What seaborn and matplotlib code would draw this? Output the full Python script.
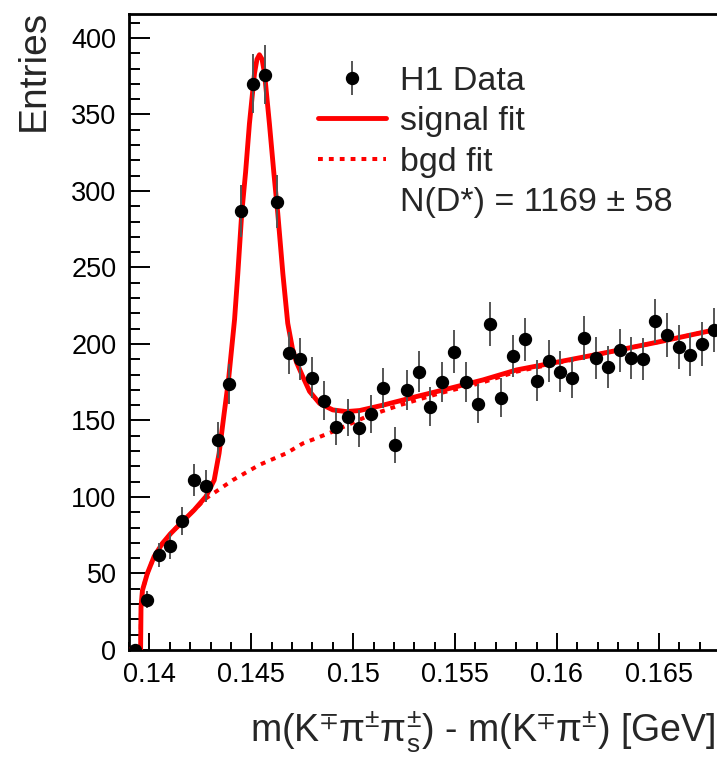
import numpy as np
import pandas as pd
import matplotlib
matplotlib.use('Agg')
import matplotlib.pyplot as plt
import seaborn as sns
from matplotlib.lines import Line2D
from matplotlib.ticker import MultipleLocator, FuncFormatter

# histogram of m(K pi pi_s) - m(K pi), 50 bins
bin_lo, bin_hi, n_bins = 0.139, 0.168, 50
counts = [0, 33, 62, 68, 84, 111, 107, 137, 174, 287,
          370, 376, 293, 194, 190, 178, 163, 146, 152, 145,
          154, 171, 134, 170, 182, 159, 175, 195, 175, 161,
          213, 165, 192, 203, 176, 189, 182, 178, 204, 191,
          185, 196, 191, 190, 215, 206, 198, 193, 200, 209]

# signal + background fit
sig_x = [0.1390, 0.13957, 0.13959, 0.13966, 0.13990, 0.14023, 0.14064, 0.14105,
         0.14154, 0.14220, 0.14277, 0.14318, 0.14342, 0.14367, 0.14388, 0.14418,
         0.14434, 0.14453, 0.14472, 0.14491, 0.14516, 0.14528, 0.14540, 0.14553,
         0.14565, 0.14589, 0.14611, 0.14630, 0.14655, 0.14679, 0.14702, 0.14722,
         0.14753, 0.14786, 0.14835, 0.14900, 0.14966, 0.15032, 0.15146, 0.15310,
         0.15474, 0.15637, 0.15801, 0.16210, 0.16505, 0.16800]
sig_y = [0, 0, 28, 39, 50, 61, 69.7, 76.2,
         82.8, 91.5, 100.2, 111, 128.5, 154.7, 176, 216,
         246, 285, 312, 344, 377, 386, 389, 386,
         377, 344, 311.5, 285.4, 246, 213.5, 197, 188,
         178.6, 169, 161.2, 156.9, 155.8, 156.5, 160, 165.6,
         171, 176.5, 183, 193.5, 201.5, 210]

# background only fit
bgd_x = [0.1390, 0.13957, 0.13959, 0.13966, 0.13990, 0.14023, 0.14064, 0.14105,
         0.14154, 0.14220, 0.14277, 0.14409, 0.14540, 0.14671, 0.14753, 0.14819,
         0.14900, 0.15065, 0.15228, 0.15425, 0.15621, 0.15801, 0.16210, 0.16505,
         0.16800]
bgd_y = [0, 0, 28, 39, 50, 61, 69.7, 76.2,
         82.8, 91.5, 99, 111, 121, 128.5, 135, 138.4,
         142.7, 152.5, 160, 167.8, 174.3, 181.9, 193.5, 201.5,
         210]

sns.set_style('ticks')
plt.rcParams['font.family'] = ['Liberation Sans', 'DejaVu Sans']
plt.rcParams['mathtext.fontset'] = 'custom'
plt.rcParams['mathtext.rm'] = 'Liberation Sans'
plt.rcParams['mathtext.it'] = 'Liberation Sans:italic'
plt.rcParams['mathtext.fallback'] = 'stixsans'
plt.rcParams['axes.edgecolor'] = 'black'
plt.rcParams['xtick.color'] = 'black'
plt.rcParams['ytick.color'] = 'black'

fig = plt.figure(figsize=(7.17, 7.59), dpi=100)
ax = fig.add_axes([0.1799, 0.1436, 0.8243, 0.8379])

centers = bin_lo + (np.arange(n_bins) + 0.5) * (bin_hi - bin_lo) / n_bins
df = pd.DataFrame({'dm': centers, 'entries': counts})
df['err'] = np.sqrt(df['entries'])
sig = pd.DataFrame({'dm': sig_x, 'entries': sig_y})
bgd = pd.DataFrame({'dm': bgd_x, 'entries': bgd_y})

dotted = (0, (1.2, 1.5))
sns.lineplot(data=bgd, x='dm', y='entries', ax=ax, color='red', lw=2.9,
             linestyle=dotted, zorder=2)
sns.lineplot(data=sig, x='dm', y='entries', ax=ax, color='red', lw=3.5, zorder=3)
data_h = ax.errorbar(df['dm'], df['entries'], yerr=df['err'], fmt='o', color='black',
                     ms=8.6, ecolor='#555555', elinewidth=1.4, capsize=0, zorder=4)

ax.set_xlim(bin_lo, bin_hi)
ax.set_ylim(0, 415.6)

ax.xaxis.set_major_locator(MultipleLocator(0.005))
ax.xaxis.set_minor_locator(MultipleLocator(0.001))
ax.yaxis.set_major_locator(MultipleLocator(50))
ax.yaxis.set_minor_locator(MultipleLocator(10))
ax.xaxis.set_major_formatter(FuncFormatter(lambda v, p: f'{v:g}'))
ax.tick_params(which='both', direction='in', top=False, right=False, width=1.4)
ax.tick_params(axis='x', which='major', length=12, labelsize=19.5, pad=8.5)
ax.tick_params(axis='x', which='minor', length=5.8)
ax.tick_params(axis='y', which='major', length=14.9, labelsize=19.5, pad=9)
ax.tick_params(axis='y', which='minor', length=7.7)
for s in ax.spines.values():
    s.set_linewidth(2)

ax.set_ylabel('Entries', fontsize=28, loc='top')
ax.yaxis.set_label_coords(-0.13, 1.006)
ax.set_xlabel('m(K$^{\\mp}$π$^{\\pm}$π$^{\\pm}_{\\mathrm{s}}$) - m(K$^{\\mp}$π$^{\\pm}$) [GeV]',
              fontsize=27, loc='right')
ax.xaxis.label.set_va('baseline')
ax.xaxis.set_label_coords(0.992, -0.145)

sig_h = Line2D([], [], color='red', lw=3.5)
bgd_h = Line2D([], [], color='red', lw=2.9, linestyle=dotted)
n_h = Line2D([], [], linestyle='none')
ax.legend([data_h, sig_h, bgd_h, n_h],
          ['H1 Data', 'signal fit', 'bgd fit', 'N(D*) = 1169 ± 58'],
          loc='upper left', bbox_to_anchor=(0.32, 0.918), frameon=False,
          fontsize=24.5, handlelength=2.0, handletextpad=0.41, labelspacing=0.27,
          borderpad=0, borderaxespad=0)

fig.savefig('out.png', dpi=100)
